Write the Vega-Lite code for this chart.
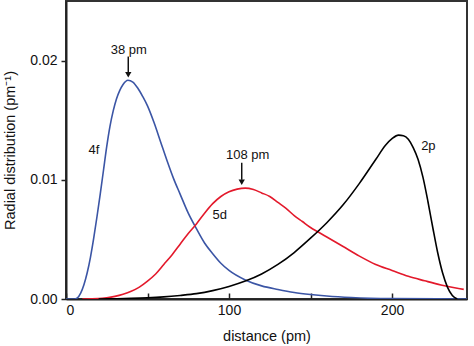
{
  "$schema": "https://vega.github.io/schema/vega-lite/v6.json",
  "width": 401,
  "height": 298,
  "autosize": {"type": "none"},
  "padding": {"left": 66, "top": 1, "right": 7, "bottom": 47},
  "background": "white",
  "config": {
    "font": "Liberation Sans",
    "view": {"stroke": "#333", "strokeWidth": 2},
    "axis": {"grid": false, "domainColor": "#222", "domainWidth": 2, "tickColor": "#222", "tickWidth": 1.5, "labelFontSize": 14, "titleFontSize": 14.5, "labelColor": "#111", "titleColor": "#111", "titleFontWeight": "normal"}
  },
  "datasets": {
    "curves": [
      {"series": "4f", "d": 0, "v": 0},
      {"series": "4f", "d": 5, "v": 0},
      {"series": "4f", "d": 7, "v": 0.0001},
      {"series": "4f", "d": 9, "v": 0.0005},
      {"series": "4f", "d": 11, "v": 0.0012},
      {"series": "4f", "d": 13, "v": 0.0022},
      {"series": "4f", "d": 15, "v": 0.0035},
      {"series": "4f", "d": 17, "v": 0.0051},
      {"series": "4f", "d": 19, "v": 0.0069},
      {"series": "4f", "d": 21, "v": 0.0088},
      {"series": "4f", "d": 23, "v": 0.0108},
      {"series": "4f", "d": 25, "v": 0.0128},
      {"series": "4f", "d": 27, "v": 0.0145},
      {"series": "4f", "d": 29, "v": 0.0158},
      {"series": "4f", "d": 31, "v": 0.0168},
      {"series": "4f", "d": 33, "v": 0.0175},
      {"series": "4f", "d": 35, "v": 0.0180},
      {"series": "4f", "d": 38, "v": 0.01835},
      {"series": "4f", "d": 41, "v": 0.0182},
      {"series": "4f", "d": 44, "v": 0.0177},
      {"series": "4f", "d": 47, "v": 0.0170},
      {"series": "4f", "d": 50, "v": 0.0162},
      {"series": "4f", "d": 54, "v": 0.0148},
      {"series": "4f", "d": 58, "v": 0.0132},
      {"series": "4f", "d": 62, "v": 0.0116},
      {"series": "4f", "d": 66, "v": 0.0101},
      {"series": "4f", "d": 70, "v": 0.0088},
      {"series": "4f", "d": 75, "v": 0.0072},
      {"series": "4f", "d": 80, "v": 0.0059},
      {"series": "4f", "d": 85, "v": 0.0047},
      {"series": "4f", "d": 90, "v": 0.0038},
      {"series": "4f", "d": 95, "v": 0.0030},
      {"series": "4f", "d": 100, "v": 0.0024},
      {"series": "4f", "d": 110, "v": 0.0016},
      {"series": "4f", "d": 120, "v": 0.0011},
      {"series": "4f", "d": 130, "v": 0.0008},
      {"series": "4f", "d": 140, "v": 0.00055},
      {"series": "4f", "d": 150, "v": 0.00038},
      {"series": "4f", "d": 160, "v": 0.00025},
      {"series": "4f", "d": 175, "v": 0.00012},
      {"series": "4f", "d": 200, "v": 0.00003},
      {"series": "4f", "d": 246, "v": 0},
      {"series": "5d", "d": 10, "v": 0},
      {"series": "5d", "d": 20, "v": 0.00003},
      {"series": "5d", "d": 25, "v": 0.0001},
      {"series": "5d", "d": 30, "v": 0.00022},
      {"series": "5d", "d": 35, "v": 0.0004},
      {"series": "5d", "d": 40, "v": 0.00065},
      {"series": "5d", "d": 45, "v": 0.0010},
      {"series": "5d", "d": 50, "v": 0.0015},
      {"series": "5d", "d": 55, "v": 0.0021},
      {"series": "5d", "d": 60, "v": 0.0029},
      {"series": "5d", "d": 65, "v": 0.0037},
      {"series": "5d", "d": 70, "v": 0.0046},
      {"series": "5d", "d": 75, "v": 0.0055},
      {"series": "5d", "d": 80, "v": 0.0063},
      {"series": "5d", "d": 85, "v": 0.0072},
      {"series": "5d", "d": 90, "v": 0.0080},
      {"series": "5d", "d": 95, "v": 0.0086},
      {"series": "5d", "d": 100, "v": 0.0090},
      {"series": "5d", "d": 105, "v": 0.00922},
      {"series": "5d", "d": 110, "v": 0.0093},
      {"series": "5d", "d": 115, "v": 0.00918},
      {"series": "5d", "d": 120, "v": 0.0089},
      {"series": "5d", "d": 125, "v": 0.0086},
      {"series": "5d", "d": 130, "v": 0.0081},
      {"series": "5d", "d": 135, "v": 0.0076},
      {"series": "5d", "d": 140, "v": 0.0070},
      {"series": "5d", "d": 145, "v": 0.0065},
      {"series": "5d", "d": 150, "v": 0.0060},
      {"series": "5d", "d": 155, "v": 0.0056},
      {"series": "5d", "d": 160, "v": 0.0052},
      {"series": "5d", "d": 170, "v": 0.0044},
      {"series": "5d", "d": 180, "v": 0.0036},
      {"series": "5d", "d": 190, "v": 0.0029},
      {"series": "5d", "d": 200, "v": 0.0024},
      {"series": "5d", "d": 210, "v": 0.0019},
      {"series": "5d", "d": 220, "v": 0.00153},
      {"series": "5d", "d": 230, "v": 0.00118},
      {"series": "5d", "d": 240, "v": 0.0009},
      {"series": "5d", "d": 244, "v": 0.00081},
      {"series": "2p", "d": 20, "v": 0},
      {"series": "2p", "d": 30, "v": 0.00002},
      {"series": "2p", "d": 40, "v": 0.00005},
      {"series": "2p", "d": 50, "v": 0.0001},
      {"series": "2p", "d": 60, "v": 0.00018},
      {"series": "2p", "d": 70, "v": 0.0003},
      {"series": "2p", "d": 80, "v": 0.00045},
      {"series": "2p", "d": 90, "v": 0.0007},
      {"series": "2p", "d": 100, "v": 0.00105},
      {"series": "2p", "d": 110, "v": 0.0015},
      {"series": "2p", "d": 120, "v": 0.0021},
      {"series": "2p", "d": 130, "v": 0.0029},
      {"series": "2p", "d": 140, "v": 0.0039},
      {"series": "2p", "d": 150, "v": 0.0051},
      {"series": "2p", "d": 160, "v": 0.0064},
      {"series": "2p", "d": 170, "v": 0.0079},
      {"series": "2p", "d": 180, "v": 0.0097},
      {"series": "2p", "d": 190, "v": 0.0117},
      {"series": "2p", "d": 196, "v": 0.0129},
      {"series": "2p", "d": 200, "v": 0.01345},
      {"series": "2p", "d": 204, "v": 0.01375},
      {"series": "2p", "d": 207, "v": 0.0137},
      {"series": "2p", "d": 210, "v": 0.0134},
      {"series": "2p", "d": 213, "v": 0.0127},
      {"series": "2p", "d": 216, "v": 0.0117},
      {"series": "2p", "d": 219, "v": 0.0102},
      {"series": "2p", "d": 222, "v": 0.0082},
      {"series": "2p", "d": 225, "v": 0.0060},
      {"series": "2p", "d": 228, "v": 0.0039},
      {"series": "2p", "d": 231, "v": 0.0022},
      {"series": "2p", "d": 234, "v": 0.0010},
      {"series": "2p", "d": 237, "v": 0.0003},
      {"series": "2p", "d": 240, "v": 0}
    ],
    "labels": [
      {"label": "4f", "x": 17.2, "y": 0.0125},
      {"label": "5d", "x": 94.3, "y": 0.00706},
      {"label": "2p", "x": 222.3, "y": 0.01286}
    ],
    "peaks": [
      {"label": "38 pm", "x": 38.2, "tx": 38.5, "ty": 0.02055, "y1": 0.02034, "y2": 0.0190, "yh": 0.01882},
      {"label": "108 pm", "x": 107.8, "tx": 111.5, "ty": 0.01176, "y1": 0.01143, "y2": 0.0100, "yh": 0.00979}
    ]
  },
  "layer": [
    {
      "data": {"name": "curves"},
      "mark": {"type": "line", "strokeWidth": 1.6, "interpolate": "monotone", "clip": true},
      "encoding": {
        "x": {"field": "d", "type": "quantitative", "scale": {"domain": [0, 246], "nice": false, "zero": false},
          "axis": {"title": "distance (pm)", "values": [0, 50, 100, 150, 200], "labelExpr": "datum.value % 100 === 0 ? datum.label : ''", "tickSize": -6, "labelPadding": 10, "titlePadding": 12}},
        "y": {"field": "v", "type": "quantitative", "scale": {"domain": [0, 0.025], "nice": false},
          "axis": {"title": "Radial distribution  (pm⁻¹)", "values": [0, 0.01, 0.02], "format": ".2f", "tickSize": 5, "labelPadding": 4, "titlePadding": 12}},
        "color": {"field": "series", "type": "nominal", "scale": {"domain": ["4f", "5d", "2p"], "range": ["#3b55a5", "#e3192b", "#000000"]}, "legend": null}
      }
    },
    {
      "data": {"name": "labels"},
      "mark": {"type": "text", "fontSize": 13, "color": "#111", "align": "center", "baseline": "middle"},
      "encoding": {
        "x": {"field": "x", "type": "quantitative"},
        "y": {"field": "y", "type": "quantitative"},
        "text": {"field": "label"}
      }
    },
    {
      "data": {"name": "peaks"},
      "mark": {"type": "text", "fontSize": 13, "color": "#111", "align": "center", "baseline": "alphabetic"},
      "encoding": {
        "x": {"field": "tx", "type": "quantitative"},
        "y": {"field": "ty", "type": "quantitative"},
        "text": {"field": "label"}
      }
    },
    {
      "data": {"name": "peaks"},
      "mark": {"type": "rule", "color": "#111", "strokeWidth": 1.5},
      "encoding": {
        "x": {"field": "x", "type": "quantitative"},
        "y": {"field": "y1", "type": "quantitative"},
        "y2": {"field": "y2"}
      }
    },
    {
      "data": {"name": "peaks"},
      "mark": {"type": "point", "shape": "triangle-down", "filled": true, "color": "#111", "size": 40, "opacity": 1},
      "encoding": {
        "x": {"field": "x", "type": "quantitative"},
        "y": {"field": "yh", "type": "quantitative"}
      }
    }
  ]
}
